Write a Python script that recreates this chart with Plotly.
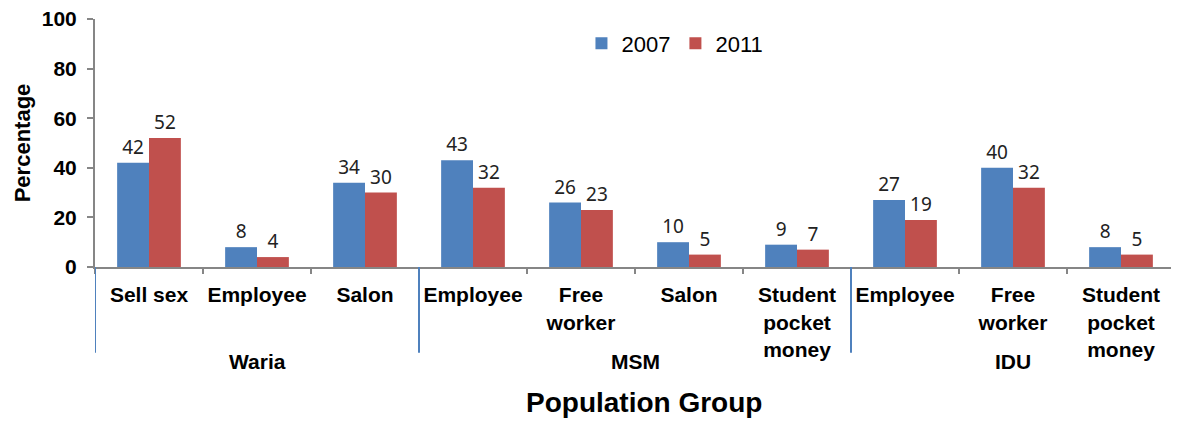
import plotly.graph_objects as go

# Data
groups = ["Waria", "MSM", "IDU"]
group_sizes = [3, 4, 3]
categories = [
    "Sell sex", "Employee", "Salon",
    "Employee", "Free<br>worker", "Salon", "Student<br>pocket<br>money",
    "Employee", "Free<br>worker", "Student<br>pocket<br>money",
]
values_2007 = [42, 8, 34, 43, 26, 10, 9, 27, 40, 8]
values_2011 = [52, 4, 30, 32, 23, 5, 7, 19, 32, 5]

BLUE = "#4F81BD"
RED = "#C0504D"
AXIS = "#868686"
FONT = "Liberation Sans, Arial, sans-serif"

xs = list(range(len(categories)))

fig = go.Figure()
for name, vals, color in [("2007", values_2007, BLUE), ("2011", values_2011, RED)]:
    fig.add_trace(go.Bar(
        x=xs, y=vals, name=name,
        marker=dict(color=color, line=dict(width=0)),
        text=vals, textposition="outside", cliponaxis=False,
        textfont=dict(family="Noto Sans, sans-serif", size=19, color="#222"),
    ))

# group dividers and group labels
start = 0
for g, n in zip(groups, group_sizes):
    fig.add_shape(type="line", xref="x", yref="paper",
                  x0=start - 0.5, x1=start - 0.5, y0=0, y1=-0.3456,
                  line=dict(color=BLUE, width=2))
    fig.add_annotation(text=g, xref="x", yref="paper",
                       x=start + (n - 1) / 2, y=-0.4347, showarrow=False,
                       font=dict(family=FONT, size=21, color="black", weight="bold"))
    start += n

fig.add_annotation(text="Population Group", xref="paper", yref="paper",
                   x=0.508, y=-0.6185, showarrow=False,
                   font=dict(family=FONT, size=28, color="black", weight="bold"))

# page body has an 8px margin, so the figure is sized to fit the window
fig.update_layout(
    width=1171, height=415,
    margin=dict(l=87, r=4, t=11, b=156),
    paper_bgcolor="white", plot_bgcolor="white",
    barmode="group", bargap=0.41, bargroupgap=0,
    font=dict(family=FONT, color="black"),
    legend=dict(orientation="h", x=0.537, y=0.9016, xanchor="center", yanchor="middle",
                font=dict(family=FONT, size=22), itemwidth=30, bgcolor="rgba(0,0,0,0)"),
)
fig.update_xaxes(
    tickvals=xs, ticktext=categories,
    tickfont=dict(family=FONT, size=21, color="black", weight="bold"),
    ticks="", range=[-0.5, 9.5], automargin=False,
    showline=True, linecolor=AXIS, linewidth=2, showgrid=False,
    minor=dict(tickmode="array", tickvals=[i - 0.5 for i in range(11)],
               ticks="outside", ticklen=5, tickcolor=AXIS, tickwidth=2),
    ticklabelstandoff=8,
)
fig.update_yaxes(
    range=[0, 100], tickvals=[0, 20, 40, 60, 80, 100], automargin=False,
    tickfont=dict(family=FONT, size=21, color="black", weight="bold"),
    ticks="outside", ticklen=6, tickcolor=AXIS, tickwidth=2, ticklabelstandoff=6,
    ticklabeloverflow="allow",
    showline=True, linecolor=AXIS, linewidth=2, showgrid=False, zeroline=False,
    title=dict(text="Percentage", font=dict(family=FONT, size=22, weight="bold"), standoff=5),
)

fig.write_html("out.html")
